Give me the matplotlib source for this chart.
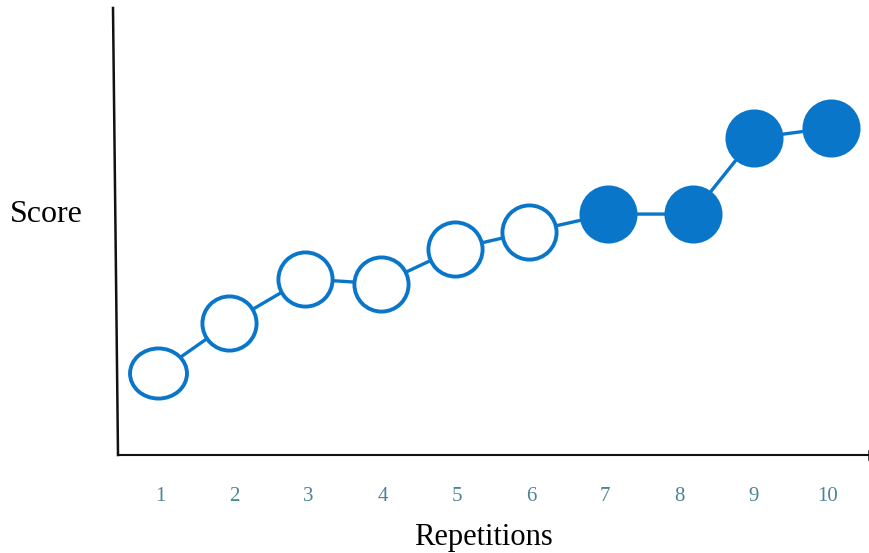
import matplotlib.pyplot as plt
from matplotlib.lines import Line2D
from matplotlib.path import Path

# repetitions (as placed in the picture) and scores (arbitrary 0-100 scale)
reps = [0.97, 1.93, 2.95, 3.98, 4.98, 5.97, 7.04, 8.18, 9.0, 10.04]
scores = [18.3, 29.5, 39.4, 38.3, 46.1, 49.9, 53.9, 53.9, 70.9, 73.2]
filled = [False, False, False, False, False, False, True, True, True, True]
tick_labels = ["1", "2", "3", "4", "5", "6", "7", "8", "9", "10"]

blue = "#0A76C9"

# first marker is a bit squashed in the original
circ = Path.unit_circle()
ellipse = Path(circ.vertices * [1.0, 0.88], circ.codes)

fig = plt.figure(figsize=(8.7, 5.53), dpi=100)
ax = fig.add_axes([118 / 870, 98 / 553, 751 / 870, 447 / 553])

ax.plot(reps, scores, color=blue, lw=2.4, zorder=1)
for i, (x, y, f) in enumerate(zip(reps, scores, filled)):
    mk, ms = (ellipse, 41) if i == 0 else ("o", 39)
    ax.plot(x, y, marker=mk, ms=ms, mew=2.8, mec=blue,
            mfc=blue if f else "white", ls="none", zorder=2)

ax.set_xlim(0.434, 10.555)
ax.set_ylim(0, 100)
ax.set_xticks(range(1, 11))
ax.set_xticklabels(tick_labels, family="Liberation Serif", fontsize=15,
                   color="#4a8594")
ax.tick_params(axis="x", length=0, pad=23)
ax.set_yticks([])

for s in ["top", "right", "left"]:
    ax.spines[s].set_visible(False)
ax.spines["bottom"].set_linewidth(1.5)
ax.spines["bottom"].set_color("#111111")

# left axis is drawn slightly slanted in the original
ax.add_line(Line2D([0, -5 / 751], [0, 1], transform=ax.transAxes,
                   color="#111111", lw=1.8, clip_on=False))
# small end tick on the right
ax.add_line(Line2D([1, 1], [-0.008, 0.008], transform=ax.transAxes,
                   color="#111111", lw=1.8, clip_on=False))

fig.text(46 / 870, 1 - 215 / 553, "Score", family="Liberation Serif",
         fontsize=23, ha="center", va="center")
fig.text(483 / 870, 1 - 538 / 553, "Repetitions", family="Liberation Serif",
         fontsize=22, ha="center", va="center")

fig.savefig("out.png", dpi=100)
